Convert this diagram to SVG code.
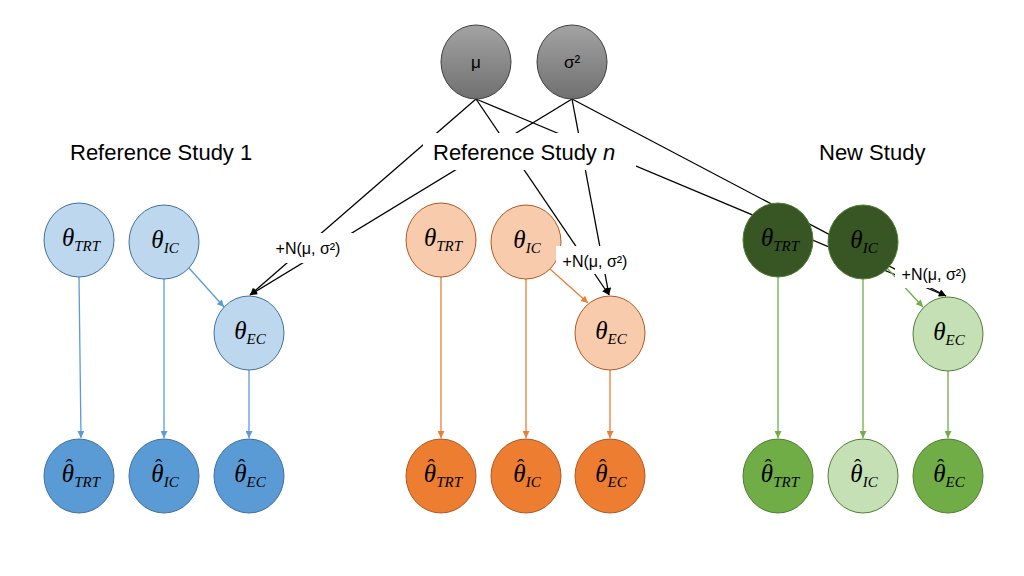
<svg xmlns="http://www.w3.org/2000/svg" width="1024" height="576" viewBox="0 0 1024 576">
<style>
.title{font-family:"Liberation Sans","Open Sans",sans-serif;font-size:22px;fill:#000}
.m{font-family:"Liberation Serif","DejaVu Serif",serif;font-style:italic;font-size:25px;fill:#000;text-anchor:middle}
.s{font-size:15px}
.h{font-size:22px;font-style:normal}
.lbl{font-family:"Liberation Sans","Open Sans",sans-serif;font-size:16px;fill:#000;text-anchor:middle}
.par{font-family:"Liberation Sans","Open Sans",sans-serif;font-size:17px;fill:#000;text-anchor:middle}
.gray{fill:url(#gg);stroke:#404040;stroke-width:1}
.bL{fill:#BDD7EE;stroke:#41719C;stroke-width:1}
.bD{fill:#5B9BD5;stroke:#41719C;stroke-width:1}
.oL{fill:#F8CBAD;stroke:#AE5A21;stroke-width:1}
.oD{fill:#ED7D31;stroke:#AE5A21;stroke-width:1}
.gDk{fill:#375623;stroke:#507E32;stroke-width:1}
.gL{fill:#C5E0B4;stroke:#507E32;stroke-width:1}
.gD{fill:#70AD47;stroke:#507E32;stroke-width:1}
.k{stroke:#000;stroke-width:1.3;fill:none;marker-end:url(#ak)}
.cb{stroke:#5B9BD5;stroke-width:1.3;fill:none;marker-end:url(#ab)}
.co{stroke:#ED7D31;stroke-width:1.3;fill:none;marker-end:url(#ao)}
.cg{stroke:#70AD47;stroke-width:1.3;fill:none;marker-end:url(#ag)}
.wb{fill:#fff;stroke:none}
</style>
<defs>
<linearGradient id="gg" x1="0" y1="0" x2="0" y2="1">
<stop offset="0" stop-color="#a3a3a3"/>
<stop offset="1" stop-color="#707070"/>
</linearGradient>
<marker id="ak" viewBox="0 0 10 10" refX="10" refY="5" markerWidth="9" markerHeight="7" markerUnits="userSpaceOnUse" orient="auto"><path d="M0,0 L10,5 L0,10 z" fill="#000"/></marker>
<marker id="ab" viewBox="0 0 10 10" refX="10" refY="5" markerWidth="9" markerHeight="7" markerUnits="userSpaceOnUse" orient="auto"><path d="M0,0 L10,5 L0,10 z" fill="#5B9BD5"/></marker>
<marker id="ao" viewBox="0 0 10 10" refX="10" refY="5" markerWidth="9" markerHeight="7" markerUnits="userSpaceOnUse" orient="auto"><path d="M0,0 L10,5 L0,10 z" fill="#ED7D31"/></marker>
<marker id="ag" viewBox="0 0 10 10" refX="10" refY="5" markerWidth="9" markerHeight="7" markerUnits="userSpaceOnUse" orient="auto"><path d="M0,0 L10,5 L0,10 z" fill="#70AD47"/></marker>
</defs>
<rect width="1024" height="576" fill="#fff"/>

<g id="connectors">
<line class="k" x1="476" y1="99" x2="250" y2="295"/>
<line class="k" x1="572" y1="99" x2="250" y2="295"/>
<line class="k" x1="476" y1="99" x2="609" y2="295"/>
<line class="k" x1="572" y1="99" x2="609" y2="295"/>
<line class="k" x1="476" y1="99" x2="946" y2="296"/>
<line class="k" x1="572" y1="99" x2="946" y2="296"/>
<line class="cb" x1="79" y1="277" x2="81" y2="438"/>
<line class="cb" x1="164" y1="279" x2="164" y2="438"/>
<line class="cb" x1="249" y1="370" x2="249" y2="438"/>
<line class="cb" x1="189" y1="268" x2="224" y2="307"/>
<line class="co" x1="441" y1="277" x2="441" y2="438"/>
<line class="co" x1="526" y1="279" x2="526" y2="438"/>
<line class="co" x1="610" y1="370" x2="610" y2="438"/>
<line class="co" x1="550" y1="269" x2="588" y2="303"/>
<line class="cg" x1="778" y1="277" x2="778" y2="438"/>
<line class="cg" x1="863" y1="279" x2="863" y2="438"/>
<line class="cg" x1="948" y1="371" x2="948" y2="438"/>
<line class="cg" x1="887" y1="268" x2="923" y2="307"/>
</g>

<g id="mu"><ellipse class="gray" cx="476" cy="62" rx="35" ry="37"/><text class="par" x="476" y="68">μ</text></g>
<g id="sigma2"><ellipse class="gray" cx="572" cy="62" rx="35" ry="37"/><text class="par" x="572" y="68">σ²</text></g>

<g id="rs1-trt"><ellipse class="bL" cx="79" cy="240" rx="35" ry="37"/><text class="m" x="81" y="246">θ<tspan class="s" dy="5">TRT</tspan></text></g>
<g id="rs1-ic"><ellipse class="bL" cx="164" cy="242" rx="35" ry="37"/><text class="m" x="165" y="248">θ<tspan class="s" dy="5">IC</tspan></text></g>
<g id="rs1-ec"><ellipse class="bL" cx="249" cy="333" rx="35" ry="37"/><text class="m" x="250" y="339">θ<tspan class="s" dy="5">EC</tspan></text></g>
<g id="rs1-trt-hat"><ellipse class="bD" cx="79" cy="476" rx="35" ry="37"/><text class="m" x="81" y="482">θ<tspan class="h" dx="-8.6" dy="-8">ˆ</tspan><tspan class="s" dx="1.4" dy="13">TRT</tspan></text></g>
<g id="rs1-ic-hat"><ellipse class="bD" cx="164" cy="476" rx="35" ry="37"/><text class="m" x="165" y="482">θ<tspan class="h" dx="-8.6" dy="-8">ˆ</tspan><tspan class="s" dx="1.4" dy="13">IC</tspan></text></g>
<g id="rs1-ec-hat"><ellipse class="bD" cx="249" cy="476" rx="35" ry="37"/><text class="m" x="250" y="482">θ<tspan class="h" dx="-8.6" dy="-8">ˆ</tspan><tspan class="s" dx="1.4" dy="13">EC</tspan></text></g>

<g id="rsn-trt"><ellipse class="oL" cx="441" cy="240" rx="35" ry="37"/><text class="m" x="443" y="246">θ<tspan class="s" dy="5">TRT</tspan></text></g>
<g id="rsn-ic"><ellipse class="oL" cx="526" cy="242" rx="35" ry="37"/><text class="m" x="527" y="248">θ<tspan class="s" dy="5">IC</tspan></text></g>
<g id="rsn-ec"><ellipse class="oL" cx="610" cy="333" rx="35" ry="37"/><text class="m" x="611" y="339">θ<tspan class="s" dy="5">EC</tspan></text></g>
<g id="rsn-trt-hat"><ellipse class="oD" cx="441" cy="476" rx="35" ry="37"/><text class="m" x="443" y="482">θ<tspan class="h" dx="-8.6" dy="-8">ˆ</tspan><tspan class="s" dx="1.4" dy="13">TRT</tspan></text></g>
<g id="rsn-ic-hat"><ellipse class="oD" cx="526" cy="476" rx="35" ry="37"/><text class="m" x="527" y="482">θ<tspan class="h" dx="-8.6" dy="-8">ˆ</tspan><tspan class="s" dx="1.4" dy="13">IC</tspan></text></g>
<g id="rsn-ec-hat"><ellipse class="oD" cx="610" cy="476" rx="35" ry="37"/><text class="m" x="611" y="482">θ<tspan class="h" dx="-8.6" dy="-8">ˆ</tspan><tspan class="s" dx="1.4" dy="13">EC</tspan></text></g>

<g id="ns-trt"><ellipse class="gDk" cx="778" cy="240" rx="35" ry="37"/><text class="m" x="780" y="246">θ<tspan class="s" dy="5">TRT</tspan></text></g>
<g id="ns-ic"><ellipse class="gDk" cx="863" cy="242" rx="35" ry="37"/><text class="m" x="864" y="248">θ<tspan class="s" dy="5">IC</tspan></text></g>
<g id="ns-ec"><ellipse class="gL" cx="948" cy="334" rx="35" ry="37"/><text class="m" x="949" y="340">θ<tspan class="s" dy="5">EC</tspan></text></g>
<g id="ns-trt-hat"><ellipse class="gD" cx="778" cy="476" rx="35" ry="37"/><text class="m" x="780" y="482">θ<tspan class="h" dx="-8.6" dy="-8">ˆ</tspan><tspan class="s" dx="1.4" dy="13">TRT</tspan></text></g>
<g id="ns-ic-hat"><ellipse class="gL" cx="863" cy="476" rx="35" ry="37"/><text class="m" x="864" y="482">θ<tspan class="h" dx="-8.6" dy="-8">ˆ</tspan><tspan class="s" dx="1.4" dy="13">IC</tspan></text></g>
<g id="ns-ec-hat"><ellipse class="gD" cx="948" cy="476" rx="35" ry="37"/><text class="m" x="949" y="482">θ<tspan class="h" dx="-8.6" dy="-8">ˆ</tspan><tspan class="s" dx="1.4" dy="13">EC</tspan></text></g>

<g id="labels">
<text class="title" x="70" y="160">Reference Study 1</text>
<rect class="wb" x="423" y="133" width="213" height="37"/>
<text class="title" x="433" y="160">Reference Study <tspan font-style="italic">n</tspan></text>
<text class="title" x="819" y="160">New Study</text>
<rect class="wb" x="270" y="233" width="86" height="30"/>
<text class="lbl" x="308" y="254">+N(μ, σ²)</text>
<rect class="wb" x="556" y="246" width="77" height="28"/>
<text class="lbl" x="595" y="267">+N(μ, σ²)</text>
<rect class="wb" x="895" y="262" width="80" height="26"/>
<text class="lbl" x="934" y="280">+N(μ, σ²)</text>
</g>
</svg>
